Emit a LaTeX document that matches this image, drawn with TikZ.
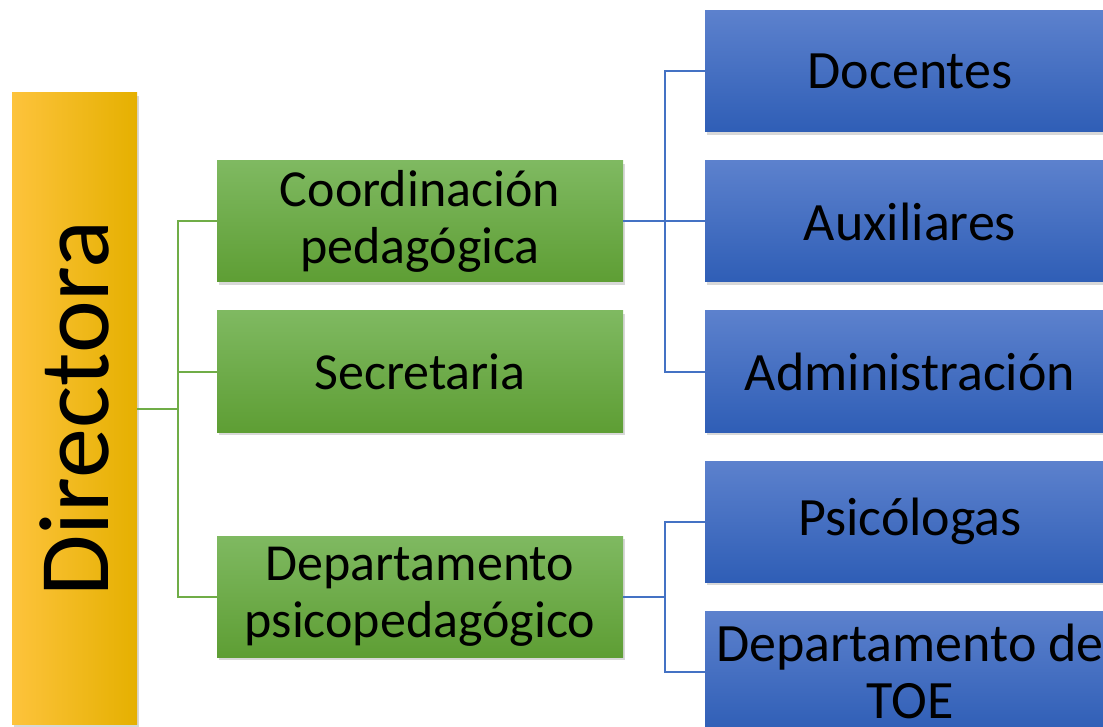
\documentclass[tikz,border=0pt]{standalone}
\usepackage{fontspec}
\setmainfont{Carlito}
\usetikzlibrary{shadows}
\definecolor{DirLeft}{HTML}{FDC33C}
\definecolor{DirMid}{HTML}{FFC000}
\definecolor{DirRight}{HTML}{E5B000}
\definecolor{GrnTop}{HTML}{7FB961}
\definecolor{GrnMid}{HTML}{6EAF41}
\definecolor{GrnBot}{HTML}{5E9E34}
\definecolor{BluTop}{HTML}{5C81CD}
\definecolor{BluMid}{HTML}{4170C8}
\definecolor{BluBot}{HTML}{2F5EB6}
\definecolor{GrnLine}{HTML}{70AD47}
\definecolor{BluLine}{HTML}{4472C4}

\begin{document}
\begin{tikzpicture}[x=1pt,y=-1pt,
  boxshadow/.style={drop shadow={shadow xshift=2pt,shadow yshift=-3pt,opacity=0.3}},
  dirbox/.style={boxshadow,inner sep=0pt,minimum width=125pt,minimum height=631pt,
    left color=DirLeft,middle color=DirMid,right color=DirRight,
    font=\fontsize{100}{120}\selectfont},
  grnbox/.style={boxshadow,inner sep=0pt,minimum width=406pt,minimum height=121pt,
    top color=GrnTop,middle color=GrnMid,bottom color=GrnBot,align=center,
    font=\fontsize{52}{57}\selectfont},
  blubox/.style={boxshadow,inner sep=0pt,minimum width=410pt,minimum height=121pt,
    top color=BluTop,middle color=BluMid,bottom color=BluBot,align=center,
    font=\fontsize{54}{57}\selectfont},
  grnline/.style={draw=GrnLine,line width=2pt},
  bluline/.style={draw=BluLine,line width=2pt}]
\useasboundingbox (0,0) rectangle (1103,727);
\fill[white] (0,0) rectangle (1103,727);

\node[dirbox] (dir) at (74.5,408.5) {\rotatebox{90}{Directora}};

\node[grnbox] (coord) at (420,221.5) {Coordinación\\pedagógica};
\node[grnbox] (secr) at (420,371.5) {Secretaria};
\node[grnbox] (depto) at (420,596.5) {Departamento\\psicopedagógico};

\node[blubox] (doc) at (910,71.5) {Docentes};
\node[blubox] (aux) at (910,221.5) {Auxiliares};
\node[blubox] (adm) at (910,371.5) {Administración};
\node[blubox] (psi) at (910,521.5) {Psicólogas};
\node[blubox] (toe) at (910,671.5) {Departamento de\\TOE};

\draw[grnline] (dir.east) -- ++(41,0) coordinate (gbus);
\draw[grnline] (gbus) |- (coord.west);
\draw[grnline] (gbus) |- (secr.west);
\draw[grnline] (gbus) |- (depto.west);

\draw[bluline] (coord.east) -- ++(42,0) coordinate (bbus1);
\draw[bluline] (bbus1) |- (doc.west);
\draw[bluline] (bbus1) |- (aux.west);
\draw[bluline] (bbus1) |- (adm.west);

\draw[bluline] (depto.east) -- ++(42,0) coordinate (bbus2);
\draw[bluline] (bbus2) |- (psi.west);
\draw[bluline] (bbus2) |- (toe.west);

\end{tikzpicture}
\end{document}
